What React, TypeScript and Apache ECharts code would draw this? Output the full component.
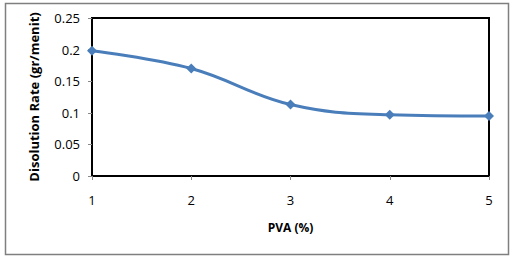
import React, { useEffect, useRef } from "react";
import * as echarts from "echarts";

const categories = ["1", "2", "3", "4", "5"];
const rates = [0.198, 0.17, 0.113, 0.097, 0.095];
const yTicks = { min: 0, max: 0.25, interval: 0.05 };

export default function App() {
  const ref = useRef<HTMLDivElement>(null);
  useEffect(() => {
    const chart = echarts.init(ref.current!, null, { renderer: "svg" });
    const font = "'Open Sans', 'Liberation Sans', sans-serif";
    chart.setOption({
      animation: false,
      backgroundColor: "#fff",
      graphic: [
        {
          type: "rect",
          shape: { x: 5.5, y: 3.5, width: 503, height: 251 },
          style: { fill: "none", stroke: "#7f7f7f", lineWidth: 1.5 },
          silent: true,
        },
      ],
      grid: {
        left: 92,
        top: 18,
        right: 24,
        bottom: 90,
        show: true,
        borderColor: "#000",
        borderWidth: 2,
        backgroundColor: "transparent",
      },
      xAxis: {
        type: "category",
        data: categories,
        boundaryGap: false,
        name: "PVA (%)",
        nameLocation: "middle",
        nameGap: 45,
        nameTextStyle: { fontFamily: font, fontSize: 12, fontWeight: "bold", color: "#000" },
        axisLine: { lineStyle: { color: "#000", width: 2 } },
        axisTick: { show: true, length: 4, lineStyle: { color: "#888" } },
        axisLabel: { fontFamily: font, fontSize: 13, color: "#000", margin: 17 },
        splitLine: { show: false },
      },
      yAxis: {
        type: "value",
        min: yTicks.min,
        max: yTicks.max,
        interval: yTicks.interval,
        name: "Disolution Rate (gr/menit)",
        nameLocation: "middle",
        nameGap: 52,
        nameRotate: 90,
        nameTextStyle: { fontFamily: font, fontSize: 13, fontWeight: "bold", color: "#000" },
        axisLine: { show: true, lineStyle: { color: "#000", width: 2 } },
        axisTick: { show: true, length: 4, lineStyle: { color: "#888" } },
        axisLabel: { fontFamily: font, fontSize: 13, color: "#000", margin: 12 },
        splitLine: { show: false },
      },
      series: [
        {
          type: "line",
          data: rates,
          smooth: 0.4,
          symbol: "diamond",
          symbolSize: 10,
          lineStyle: { color: "#4a7ebb", width: 3 },
          itemStyle: { color: "#4a7ebb" },
        },
      ],
    });
    return () => chart.dispose();
  }, []);
  return (
    <div
      ref={ref}
      style={{ position: "fixed", left: 0, top: 0, width: 513, height: 266 }}
    />
  );
}
